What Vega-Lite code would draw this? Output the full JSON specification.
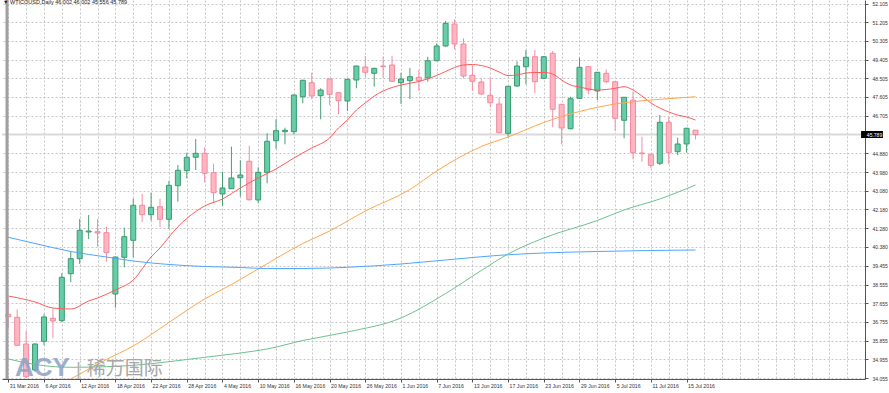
{
"$schema": "https://vega.github.io/schema/vega-lite/v6.json",
"width": 863, "height": 379,
"autosize": {"type": "none"},
"padding": {"left": 2, "top": 0, "right": 24, "bottom": 14},
"background": "#ffffff",
"config": {"view": {"stroke": null}, "font": "Liberation Sans", "axis": {"labelOverlap": false, "labelBound": false, "labelFlush": false}},
"title": {"text": "▼ WTICOUSD,Daily 46.002 46.002 45.556 45.789", "anchor": "start", "frame": "group", "orient": "top", "offset": -7, "fontSize": 5.5, "fontWeight": "normal", "color": "#222222", "font": "Liberation Sans", "dx": 1},
"datasets": {
"candles": [
{"d":"2016-03-31","i":0,"o":37.126,"h":37.863,"l":36.465,"c":37.010},
{"d":"2016-04-01","i":1,"o":36.981,"h":37.367,"l":35.600,"c":35.632},
{"d":"2016-04-04","i":2,"o":35.694,"h":36.321,"l":34.056,"c":34.118},
{"d":"2016-04-05","i":3,"o":34.441,"h":35.720,"l":34.345,"c":35.694},
{"d":"2016-04-06","i":4,"o":35.824,"h":37.126,"l":35.632,"c":36.996},
{"d":"2016-04-07","i":5,"o":36.933,"h":37.396,"l":35.969,"c":36.803},
{"d":"2016-04-08","i":6,"o":36.817,"h":39.102,"l":36.755,"c":38.909},
{"d":"2016-04-11","i":7,"o":39.083,"h":40.143,"l":38.668,"c":39.805},
{"d":"2016-04-12","i":8,"o":39.805,"h":41.719,"l":39.550,"c":41.174},
{"d":"2016-04-13","i":9,"o":41.092,"h":41.912,"l":40.755,"c":41.140},
{"d":"2016-04-14","i":10,"o":41.107,"h":41.719,"l":40.384,"c":41.044},
{"d":"2016-04-15","i":11,"o":41.059,"h":41.348,"l":39.661,"c":40.095},
{"d":"2016-04-18","i":12,"o":38.104,"h":39.900,"l":37.444,"c":39.887},
{"d":"2016-04-19","i":13,"o":39.873,"h":41.300,"l":39.391,"c":40.866},
{"d":"2016-04-20","i":14,"o":40.692,"h":42.697,"l":39.873,"c":42.379},
{"d":"2016-04-21","i":15,"o":42.379,"h":42.924,"l":41.574,"c":41.926},
{"d":"2016-04-22","i":16,"o":41.926,"h":42.986,"l":41.637,"c":42.283},
{"d":"2016-04-25","i":17,"o":42.312,"h":42.697,"l":41.319,"c":41.704},
{"d":"2016-04-26","i":18,"o":41.704,"h":43.550,"l":41.251,"c":43.343},
{"d":"2016-04-27","i":19,"o":43.324,"h":44.321,"l":42.553,"c":44.066},
{"d":"2016-04-28","i":20,"o":44.047,"h":44.914,"l":43.680,"c":44.693},
{"d":"2016-04-29","i":21,"o":44.693,"h":45.575,"l":44.081,"c":44.885},
{"d":"2016-05-02","i":22,"o":44.885,"h":45.175,"l":43.488,"c":43.921},
{"d":"2016-05-03","i":23,"o":43.950,"h":44.384,"l":42.476,"c":42.986},
{"d":"2016-05-04","i":24,"o":42.924,"h":43.999,"l":42.360,"c":43.213},
{"d":"2016-05-05","i":25,"o":43.179,"h":45.204,"l":43.165,"c":43.695},
{"d":"2016-05-06","i":26,"o":43.709,"h":44.548,"l":42.794,"c":43.840},
{"d":"2016-05-09","i":27,"o":44.500,"h":45.252,"l":42.600,"c":42.649},
{"d":"2016-05-10","i":28,"o":42.635,"h":44.211,"l":42.476,"c":43.970},
{"d":"2016-05-11","i":29,"o":43.970,"h":45.849,"l":43.440,"c":45.464},
{"d":"2016-05-12","i":30,"o":45.493,"h":46.539,"l":45.093,"c":45.975},
{"d":"2016-05-13","i":31,"o":45.927,"h":46.119,"l":45.319,"c":45.994},
{"d":"2016-05-16","i":32,"o":45.927,"h":47.720,"l":45.801,"c":47.695},
{"d":"2016-05-17","i":33,"o":47.613,"h":48.430,"l":47.295,"c":48.404},
{"d":"2016-05-18","i":34,"o":48.288,"h":48.770,"l":47.488,"c":47.647},
{"d":"2016-05-19","i":35,"o":47.662,"h":48.018,"l":46.524,"c":47.936},
{"d":"2016-05-20","i":36,"o":48.466,"h":48.490,"l":47.213,"c":47.729},
{"d":"2016-05-23","i":37,"o":47.806,"h":47.830,"l":46.765,"c":47.421},
{"d":"2016-05-24","i":38,"o":47.406,"h":48.470,"l":46.924,"c":48.452},
{"d":"2016-05-25","i":39,"o":48.418,"h":49.110,"l":48.018,"c":49.093},
{"d":"2016-05-26","i":40,"o":49.045,"h":49.575,"l":48.577,"c":48.789},
{"d":"2016-05-27","i":41,"o":48.741,"h":49.000,"l":48.095,"c":48.982},
{"d":"2016-05-30","i":42,"o":49.093,"h":49.541,"l":48.529,"c":49.059},
{"d":"2016-05-31","i":43,"o":49.141,"h":49.589,"l":48.330,"c":48.356},
{"d":"2016-06-01","i":44,"o":48.288,"h":48.770,"l":47.262,"c":48.466},
{"d":"2016-06-02","i":45,"o":48.384,"h":49.000,"l":47.502,"c":48.577},
{"d":"2016-06-03","i":46,"o":48.548,"h":48.900,"l":47.903,"c":48.384},
{"d":"2016-06-06","i":47,"o":48.515,"h":49.541,"l":48.336,"c":49.348},
{"d":"2016-06-07","i":48,"o":49.348,"h":50.187,"l":49.330,"c":50.057},
{"d":"2016-06-08","i":49,"o":50.057,"h":51.262,"l":50.023,"c":51.151},
{"d":"2016-06-09","i":50,"o":51.117,"h":51.344,"l":49.898,"c":50.153},
{"d":"2016-06-10","i":51,"o":50.153,"h":50.428,"l":48.500,"c":48.611},
{"d":"2016-06-13","i":52,"o":48.645,"h":49.093,"l":47.888,"c":48.356},
{"d":"2016-06-14","i":53,"o":48.322,"h":48.500,"l":47.695,"c":47.743},
{"d":"2016-06-15","i":54,"o":47.681,"h":48.548,"l":47.102,"c":47.324},
{"d":"2016-06-16","i":55,"o":47.262,"h":47.584,"l":45.849,"c":45.878},
{"d":"2016-06-17","i":56,"o":45.849,"h":48.130,"l":45.685,"c":48.115},
{"d":"2016-06-20","i":57,"o":48.129,"h":49.310,"l":48.081,"c":49.093},
{"d":"2016-06-21","i":58,"o":49.059,"h":49.864,"l":48.211,"c":49.512},
{"d":"2016-06-22","i":59,"o":49.541,"h":49.864,"l":47.777,"c":48.336},
{"d":"2016-06-23","i":60,"o":48.500,"h":49.560,"l":48.466,"c":49.541},
{"d":"2016-06-24","i":61,"o":49.705,"h":49.816,"l":46.139,"c":47.006},
{"d":"2016-06-27","i":62,"o":47.247,"h":47.260,"l":45.319,"c":46.105},
{"d":"2016-06-28","i":63,"o":46.071,"h":47.613,"l":46.042,"c":47.517},
{"d":"2016-06-29","i":64,"o":47.536,"h":49.493,"l":47.520,"c":49.030},
{"d":"2016-06-30","i":65,"o":49.059,"h":49.093,"l":47.729,"c":47.936},
{"d":"2016-07-01","i":66,"o":47.888,"h":48.800,"l":47.454,"c":48.789},
{"d":"2016-07-04","i":67,"o":48.741,"h":48.934,"l":48.259,"c":48.336},
{"d":"2016-07-05","i":68,"o":48.336,"h":48.350,"l":45.960,"c":46.572},
{"d":"2016-07-06","i":69,"o":46.476,"h":47.600,"l":45.608,"c":47.584},
{"d":"2016-07-07","i":70,"o":47.454,"h":47.854,"l":44.596,"c":44.914},
{"d":"2016-07-08","i":71,"o":44.900,"h":45.685,"l":44.481,"c":44.866},
{"d":"2016-07-11","i":72,"o":44.818,"h":44.885,"l":44.163,"c":44.307},
{"d":"2016-07-12","i":73,"o":44.403,"h":46.731,"l":44.321,"c":46.380},
{"d":"2016-07-13","i":74,"o":46.380,"h":46.621,"l":44.370,"c":44.914},
{"d":"2016-07-14","i":75,"o":44.963,"h":45.637,"l":44.803,"c":45.334},
{"d":"2016-07-15","i":76,"o":45.334,"h":46.120,"l":44.914,"c":46.090},
{"d":"2016-07-18","i":77,"o":46.002,"h":46.002,"l":45.556,"c":45.789}
],
"ma": [
{"s":"r","i":0,"v":38.008},{"s":"r","i":3,"v":37.718},{"s":"r","i":5,"v":37.429},{"s":"r","i":7,"v":37.381},{"s":"r","i":9,"v":37.767},{"s":"r","i":10,"v":37.911},{"s":"r","i":12,"v":38.297},{"s":"r","i":14,"v":38.779},{"s":"r","i":16,"v":39.887},{"s":"r","i":17,"v":40.321},{"s":"r","i":18,"v":40.851},{"s":"r","i":19,"v":41.343},{"s":"r","i":20,"v":41.743},{"s":"r","i":21,"v":42.080},{"s":"r","i":22,"v":42.345},{"s":"r","i":24,"v":42.683},{"s":"r","i":26,"v":43.213},{"s":"r","i":28,"v":43.695},{"s":"r","i":30,"v":44.129},{"s":"r","i":32,"v":44.659},{"s":"r","i":34,"v":45.141},{"s":"r","i":36,"v":45.622},{"s":"r","i":37,"v":46.105},{"s":"r","i":38,"v":46.490},{"s":"r","i":39,"v":46.972},{"s":"r","i":40,"v":47.310},{"s":"r","i":41,"v":47.647},{"s":"r","i":42,"v":47.888},{"s":"r","i":44,"v":48.177},{"s":"r","i":46,"v":48.346},{"s":"r","i":48,"v":48.635},{"s":"r","i":49,"v":48.828},{"s":"r","i":50,"v":49.021},{"s":"r","i":51,"v":49.141},{"s":"r","i":52,"v":49.165},{"s":"r","i":53,"v":49.117},{"s":"r","i":54,"v":48.997},{"s":"r","i":55,"v":48.804},{"s":"r","i":56,"v":48.635},{"s":"r","i":57,"v":48.659},{"s":"r","i":58,"v":48.756},{"s":"r","i":59,"v":48.780},{"s":"r","i":60,"v":48.780},{"s":"r","i":61,"v":48.707},{"s":"r","i":62,"v":48.418},{"s":"r","i":63,"v":48.177},{"s":"r","i":64,"v":48.081},{"s":"r","i":66,"v":47.936},{"s":"r","i":68,"v":48.018},{"s":"r","i":69,"v":48.095},{"s":"r","i":70,"v":47.936},{"s":"r","i":71,"v":47.647},{"s":"r","i":72,"v":47.310},{"s":"r","i":73,"v":47.069},{"s":"r","i":74,"v":46.876},{"s":"r","i":75,"v":46.731},{"s":"r","i":76,"v":46.635},{"s":"r","i":77,"v":46.490},
{"s":"o","i":5,"v":33.526},{"s":"o","i":7,"v":34.007},{"s":"o","i":11,"v":34.947},{"s":"o","i":14,"v":35.598},{"s":"o","i":18,"v":36.731},{"s":"o","i":22,"v":37.863},{"s":"o","i":25,"v":38.562},{"s":"o","i":28,"v":39.309},{"s":"o","i":33,"v":40.538},{"s":"o","i":36,"v":41.141},{"s":"o","i":40,"v":42.105},{"s":"o","i":45,"v":43.141},{"s":"o","i":48,"v":44.032},{"s":"o","i":53,"v":45.213},{"s":"o","i":56,"v":45.671},{"s":"o","i":60,"v":46.370},{"s":"o","i":64,"v":46.900},{"s":"o","i":68,"v":47.261},{"s":"o","i":72,"v":47.454},{"s":"o","i":75,"v":47.551},{"s":"o","i":77,"v":47.613},
{"s":"b","i":0,"v":40.837},{"s":"b","i":3,"v":40.538},{"s":"b","i":7,"v":40.153},{"s":"b","i":11,"v":39.887},{"s":"b","i":14,"v":39.695},{"s":"b","i":18,"v":39.526},{"s":"b","i":22,"v":39.430},{"s":"b","i":26,"v":39.381},{"s":"b","i":29,"v":39.333},{"s":"b","i":33,"v":39.333},{"s":"b","i":38,"v":39.391},{"s":"b","i":44,"v":39.550},{"s":"b","i":49,"v":39.743},{"s":"b","i":55,"v":39.969},{"s":"b","i":60,"v":40.080},{"s":"b","i":66,"v":40.153},{"s":"b","i":72,"v":40.201},{"s":"b","i":77,"v":40.225},
{"s":"g","i":0,"v":34.971},{"s":"g","i":3,"v":34.706},{"s":"g","i":7,"v":34.571},{"s":"g","i":11,"v":34.600},{"s":"g","i":14,"v":34.667},{"s":"g","i":18,"v":34.841},{"s":"g","i":22,"v":35.053},{"s":"g","i":26,"v":35.260},{"s":"g","i":29,"v":35.453},{"s":"g","i":33,"v":35.863},{"s":"g","i":38,"v":36.273},{"s":"g","i":44,"v":36.947},{"s":"g","i":49,"v":38.128},{"s":"g","i":53,"v":39.237},{"s":"g","i":56,"v":40.032},{"s":"g","i":60,"v":40.803},{"s":"g","i":66,"v":41.647},{"s":"g","i":69,"v":42.153},{"s":"g","i":73,"v":42.683},{"s":"g","i":77,"v":43.358}
]
},
"layer": [
{
"data": {"values": [{"price": 45.789}]},
"mark": {"type": "rule", "color": "#d9d9d9", "strokeWidth": 2},
"encoding": {
"y": {"field": "price", "type": "quantitative", "title": null,
"scale": {"domain": [34.007, 52.274], "nice": false, "zero": false},
"axis": {"orient": "right", "tickCount": 200,
"values": [52.105,51.205,50.305,49.405,48.505,47.605,46.705,44.880,43.980,43.080,42.180,41.280,40.380,39.455,38.555,37.655,36.755,35.855,34.955,34.055],
"format": ".3f", "grid": true, "gridDash": [2,2], "gridColor": "#c6c6c6", "gridWidth": 1,
"domainColor": "#555555", "domainWidth": 1,
"tickColor": "#555555", "tickSize": 3, "tickWidth": 1,
"labelColor": "#333333", "labelPadding": 4,
"labelFontSize": 5, "labelFont": "Liberation Sans", "labelAlign": "left", "labelBaseline": "middle",
"labelOverlap": false, "labelBound": false, "labelFlush": false}}
}
},
{
"data": {"name": "candles"},
"mark": {"type": "rule", "strokeWidth": 1, "clip": true},
"encoding": {
"x": {"field": "i", "type": "quantitative", "title": null,
"scale": {"domain": [-0.144, 95.43], "nice": false, "zero": false},
"axis": {"tickCount": 200, "values": [0,2,4,6,8,10,12,14,16,18,20,22,24,26,28,30,32,34,36,38,40,42,44,46,48,50,52,54,56,58,60,62,64,66,68,70,72,74,76,78,80,82,84,86,88,90,92,94],
"grid": true, "gridDash": [2,2], "gridColor": "#c6c6c6", "gridWidth": 1,
"domainColor": "#555555", "domainWidth": 1,
"tickColor": "#555555", "tickSize": 3, "tickWidth": 1,
"tickOpacity": {"condition": {"test": "datum.value % 4 === 0 && datum.value <= 76", "value": 1}, "value": 0},
"labelExpr": "datum.value % 4 === 0 && datum.value <= 76 ? ['31 Mar 2016','6 Apr 2016','12 Apr 2016','18 Apr 2016','22 Apr 2016','28 Apr 2016','4 May 2016','10 May 2016','16 May 2016','20 May 2016','26 May 2016','1 Jun 2016','7 Jun 2016','13 Jun 2016','17 Jun 2016','23 Jun 2016','29 Jun 2016','5 Jul 2016','11 Jul 2016','15 Jul 2016'][datum.value / 4] : ''",
"labelAlign": "left", "labelBaseline": "top", "labelPadding": 1, "labelOffset": 1,
"labelFontSize": 5.2, "labelFont": "Liberation Sans", "labelColor": "#333333",
"labelOverlap": false, "labelBound": false, "labelFlush": false}},
"y": {"field": "l", "type": "quantitative", "title": null, "scale": {"domain": [34.007, 52.274], "nice": false, "zero": false}},
"y2": {"field": "h"},
"color": {"condition": {"test": "datum.c >= datum.o", "value": "#4a9d74"}, "value": "#ee8fa6"}
}
},
{
"data": {"name": "candles"},
"mark": {"type": "bar", "size": 5, "strokeWidth": 1, "clip": true},
"encoding": {
"x": {"field": "i", "type": "quantitative", "scale": {"domain": [-0.144, 95.43], "nice": false, "zero": false}},
"y": {"field": "o", "type": "quantitative", "title": null, "scale": {"domain": [34.007, 52.274], "nice": false, "zero": false}},
"y2": {"field": "c"},
"fill": {"condition": {"test": "datum.c >= datum.o", "value": "#66cdaa"}, "value": "#ffb6c1"},
"stroke": {"condition": {"test": "datum.c >= datum.o", "value": "#3a9a6c"}, "value": "#f3899f"}
}
},
{
"data": {"name": "ma"},
"mark": {"type": "line", "strokeWidth": 1, "clip": true, "interpolate": "monotone"},
"encoding": {
"x": {"field": "i", "type": "quantitative", "scale": {"domain": [-0.144, 95.43], "nice": false, "zero": false}},
"y": {"field": "v", "type": "quantitative", "title": null, "scale": {"domain": [34.007, 52.274], "nice": false, "zero": false}},
"color": {"field": "s", "type": "nominal", "legend": null, "scale": {"domain": ["r","o","b","g"], "range": ["#ff5a5a","#ffa64d","#4da6ff","#6cc28f"]}}
}
},
{
"data": {"values": [{"price": 45.789}]},
"mark": {"type": "rect", "color": "#000000"},
"encoding": {
"x": {"datum": 95.55, "type": "quantitative"},
"x2": {"datum": 98.0},
"y": {"datum": 45.955, "type": "quantitative"},
"y2": {"datum": 45.623}
}
},
{
"data": {"values": [{"price": 45.789}]},
"mark": {"type": "text", "font": "Liberation Sans", "fontSize": 5, "align": "left", "baseline": "middle", "color": "#ffffff"},
"encoding": {
"x": {"datum": 96.2, "type": "quantitative"},
"y": {"field": "price", "type": "quantitative"},
"text": {"field": "price", "type": "quantitative", "format": ".3f"}
}
},
{
"data": {"values": [{}]},
"mark": {"type": "text", "text": "ACY", "font": "Liberation Sans", "fontWeight": "bold", "fontSize": 26, "align": "left", "baseline": "alphabetic", "color": "#8ea2c6", "opacity": 0.85},
"encoding": {"x": {"datum": 0.74, "type": "quantitative"}, "y": {"datum": 34.128, "type": "quantitative"}}
},
{
"data": {"values": [{}]},
"mark": {"type": "text", "text": "|", "font": "Liberation Sans", "fontSize": 19, "align": "left", "baseline": "alphabetic", "color": "#b0b0b0"},
"encoding": {"x": {"datum": 7.6, "type": "quantitative"}, "y": {"datum": 34.2, "type": "quantitative"}}
},
{
"data": {"values": [{}]},
"mark": {"type": "text", "text": "稀万国际", "font": "Noto Sans CJK SC", "fontSize": 19, "align": "left", "baseline": "alphabetic", "color": "#a6a6a6"},
"encoding": {"x": {"datum": 8.79, "type": "quantitative"}, "y": {"datum": 34.2, "type": "quantitative"}}
},
{
"data": {"values": [{}]},
"mark": {"type": "rule", "color": "#a0a0a0", "strokeWidth": 3},
"encoding": {"x": {"datum": -0.144, "type": "quantitative"}}
}
]
}
